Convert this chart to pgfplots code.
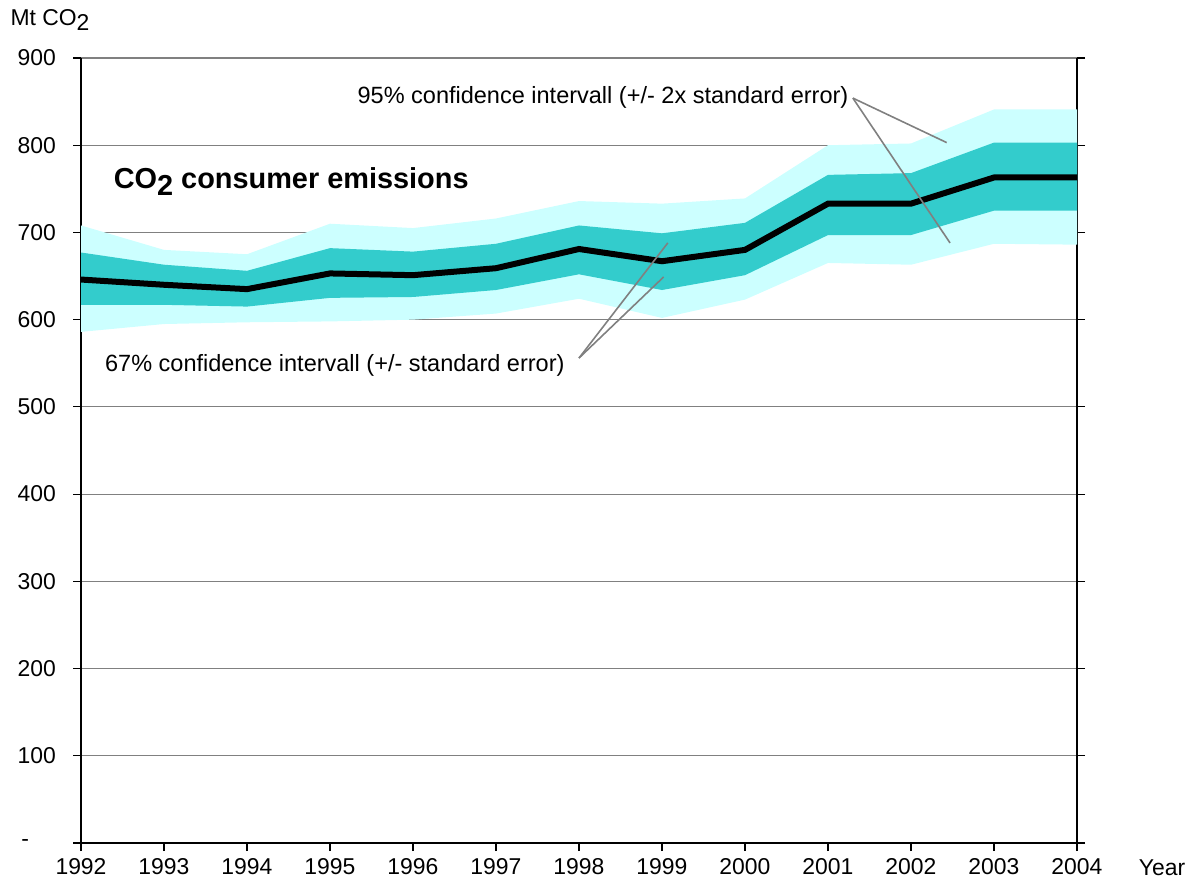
\documentclass[border=0pt]{standalone}
\usepackage{fontspec}
\setmainfont{Liberation Sans}
\usepackage{pgfplots}
\pgfplotsset{compat=1.18}
\usepackage{pgfplotstable}
\usepgfplotslibrary{fillbetween}
\definecolor{lightband}{HTML}{CCFFFF}
\definecolor{darkband}{HTML}{33CCCC}
\definecolor{gridgray}{HTML}{808080}
\pgfplotstableread{
year lo2 lo1 mid hi1 hi2
1992 586 617 646 677 708
1993 595 617 640 663 680
1994 597 615 635 656 675
1995 598 625 653 682 710
1996 600 626 651 678 705
1997 607 634 659 687 716
1998 624 652 681 708 736
1999 602 634 667 699 733
2000 623 651 680 711 739
2001 665 697 733 766 800
2002 663 697 733 768 802
2003 687 725 763 803 841
2004 686 725 763 803 841
}\co
\newcommand{\lblfont}{\fontsize{11.5}{13}\selectfont}
\begin{document}
\begin{tikzpicture}
\begin{axis}[
  at={(0,0)}, anchor=south west, scale only axis,
  width=498bp, height=392.5bp,
  xmin=1992, xmax=2004, ymin=0, ymax=900,
  axis x line*=bottom, axis y line*=box,
  xtick={1992,...,2004}, ytick={0,100,...,900},
  yticklabels={-\rule{13.5bp}{0pt},100,200,300,400,500,600,700,800,900},
  xticklabel style={/pgf/number format/1000 sep=},
  yticklabel style={xshift=-5bp},
  /pgf/number format/assume math mode=true,
  tick align=outside, major tick length=4bp,
  ymajorgrids, grid style={gridgray, line width=0.6bp},
  x axis line style={line width=1.1bp, shorten >=-4bp},
  y axis line style={line width=0.6bp},
  tick style={black, line width=0.6bp},
  ticklabel style={font=\lblfont},
  clip=false,
]
\addplot[name path=h2, draw=none, forget plot] table[x=year,y=hi2]{\co};
\addplot[name path=l2, draw=none, forget plot] table[x=year,y=lo2]{\co};
\addplot[lightband, draw=none] fill between[of=h2 and l2];
\addplot[name path=h1, draw=none, forget plot] table[x=year,y=hi1]{\co};
\addplot[name path=l1, draw=none, forget plot] table[x=year,y=lo1]{\co};
\addplot[darkband, draw=none] fill between[of=h1 and l1];
\addplot[black, line width=3bp] table[x=year,y=mid]{\co};

\draw[gridgray, line width=0.8bp] (axis cs:2001.30,854) -- (axis cs:2002.43,803);
\draw[gridgray, line width=0.8bp] (axis cs:2001.30,854) -- (axis cs:2002.47,688);
\draw[gridgray, line width=0.8bp] (axis cs:1998.0,556) -- (axis cs:1999.07,688);
\draw[gridgray, line width=0.8bp] (axis cs:1998.0,556) -- (axis cs:1999.02,649);

\node[anchor=east, inner sep=0pt, font=\fontsize{11.8}{13}\selectfont] at (axis cs:2001.25,855) {95\% confidence intervall (+/- 2x standard error)};
\node[anchor=east, inner sep=0pt, font=\fontsize{11.8}{13}\selectfont] at (axis cs:1997.83,548) {67\% confidence intervall (+/- standard error)};
\node[anchor=west, inner sep=0pt, font=\fontsize{14.5}{16}\selectfont\bfseries] at (axis cs:1992.39,758) {CO\raisebox{-0.45ex}{2} consumer emissions};
\end{axis}
\node[font=\lblfont, inner sep=0pt] at (-15.5bp,411.5bp) {Mt CO\raisebox{-0.45ex}{2}};
\node[font=\lblfont, inner sep=0pt] at (540.5bp,-12.5bp) {Year};
\pgfresetboundingbox
\path[use as bounding box] (-40.5bp,-22.5bp) rectangle (558bp,421.5bp);
\end{tikzpicture}
\end{document}
